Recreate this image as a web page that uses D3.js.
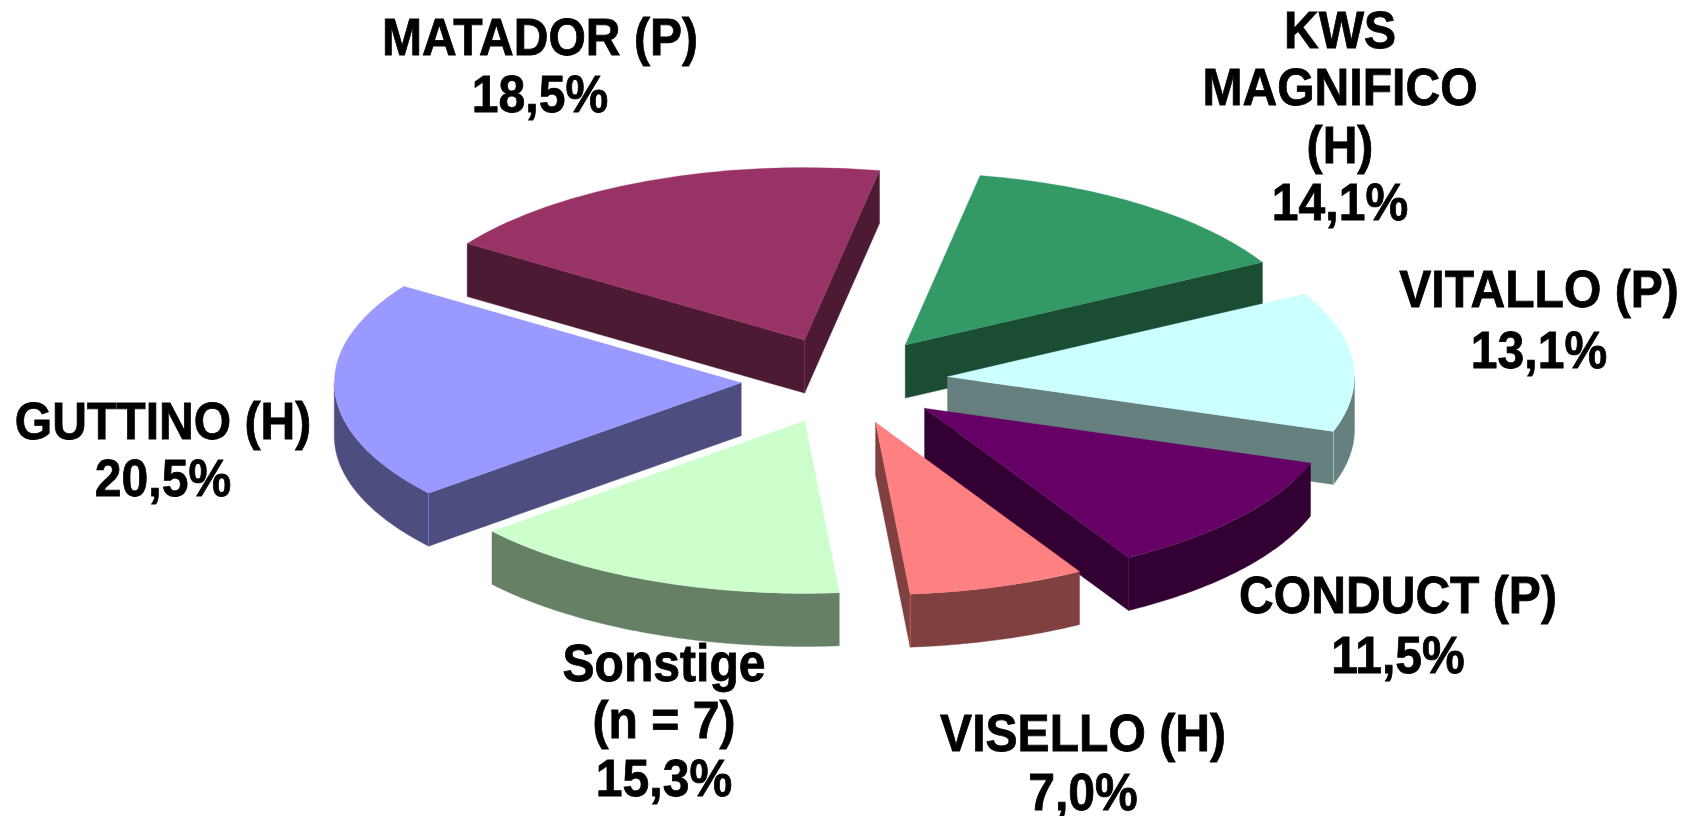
<!DOCTYPE html>
<html><head><meta charset="utf-8">
<style>html,body{margin:0;padding:0;background:#fff}svg{display:block}text{font-family:"Liberation Sans",Arial,sans-serif;font-weight:700;fill:#000;stroke:#000;stroke-width:.8px}</style>
<script src="https://cdn.jsdelivr.net/npm/d3@7/dist/d3.min.js"></script>
</head><body><svg id="c" width="1690" height="816"></svg>
<script>
const categories = ["KWS MAGNIFICO (H)","VITALLO (P)","CONDUCT (P)","VISELLO (H)","Sonstige (n = 7)","GUTTINO (H)","MATADOR (P)"];
const values = [14.1,13.1,11.5,7.0,15.3,20.5,18.5];
const labelLines = [["KWS","MAGNIFICO","(H)","14,1%"],["VITALLO (P)","13,1%"],["CONDUCT (P)","11,5%"],["VISELLO (H)","7,0%"],["Sonstige","(n = 7)","15,3%"],["GUTTINO (H)","20,5%"],["MATADOR (P)","18,5%"]];
const topColors = ["#339966","#CCFFFF","#660066","#FF8080","#CCFFCC","#9999FF","#993366"];
const sideColors = ["#1a4d33","#668080","#330033","#804040","#668066","#4d4d80","#4d1a33"];
// label layout: centre x, first baseline y, line gap
const labelX = [1340,1539,1398,1083,664,163,540];
const labelY = [48,307,613,751,681,439,55];
const labelGap = [57.5,61.5,60.5,59.5,57.5,57.5,57.5];

const W=1690,H=816,cx=844.5,cy=380.5,rx=407,ry=172.5,explode=0.254,depth=53,startDeg=10.6;
const fontSize=52,squeeze=0.925;
const svg=d3.select("#c");
const pie=d3.pie().sort(null).startAngle(startDeg*Math.PI/180).endAngle((startDeg+360)*Math.PI/180);
const arcs=pie(values).map((d,i)=>{const m=(d.startAngle+d.endAngle)/2;
  return {...d,i,ax:cx+rx*explode*Math.sin(m),ay:cy-ry*explode*Math.cos(m)};});
const arc=d3.arc().innerRadius(0).outerRadius(rx);
const k=ry/rx;
const px=(d,t)=>[d.ax+rx*Math.sin(t),d.ay-ry*Math.cos(t)];
const g=svg.append("g");
arcs.slice().sort((a,b)=>a.ay-b.ay).forEach(d=>{
  const s=g.append("g"),top=topColors[d.i],side=sideColors[d.i];
  const a=d.startAngle,b=d.endAngle,poly=p=>d3.line()(p)+"Z";
  const startVis=Math.sin(a)<0,endVis=Math.sin(b)>0;
  const A=[d.ax,d.ay],down=p=>[p[0],p[1]+depth];
  const wall=p=>s.append("path").attr("d",poly(p)).attr("fill",side).attr("stroke",side).attr("stroke-width",.4);
  const seam=p=>s.append("path").attr("class","seam").attr("d",d3.line()([p,down(p)])).attr("stroke",top).attr("stroke-opacity",.55).attr("stroke-width",.8);
  if(startVis){const P=px(d,a);wall([A,P,down(P),down(A)]);}
  if(endVis){const P=px(d,b);wall([A,P,down(P),down(A)]);}
  // outer wall: part of the rim facing the viewer
  const lo=Math.max(a,Math.PI/2),hi=Math.min(b,Math.PI*1.5);
  if(hi>lo){const ts=d3.range(lo,hi,0.01).concat([hi]);const rim=ts.map(t=>px(d,t));
    wall(rim.concat(rim.slice().reverse().map(down)));}
  if(startVis&&Math.cos(a)<0)seam(px(d,a));
  if(endVis&&Math.cos(b)<0)seam(px(d,b));
  if(startVis&&endVis)seam(A);
  s.append("path").attr("d",arc(d)).attr("fill",top).attr("stroke",top).attr("stroke-width",.4)
    .attr("transform",`translate(${d.ax},${d.ay}) scale(1,${k})`);
});
arcs.forEach(d=>{
  const t=svg.append("g").attr("transform",`translate(${labelX[d.i]},${labelY[d.i]}) scale(${squeeze},1)`);
  labelLines[d.i].forEach((l,j)=>t.append("text").attr("x",0).attr("y",j*labelGap[d.i]).attr("text-anchor","middle").attr("font-size",fontSize).text(l));
});
</script></body></html>
